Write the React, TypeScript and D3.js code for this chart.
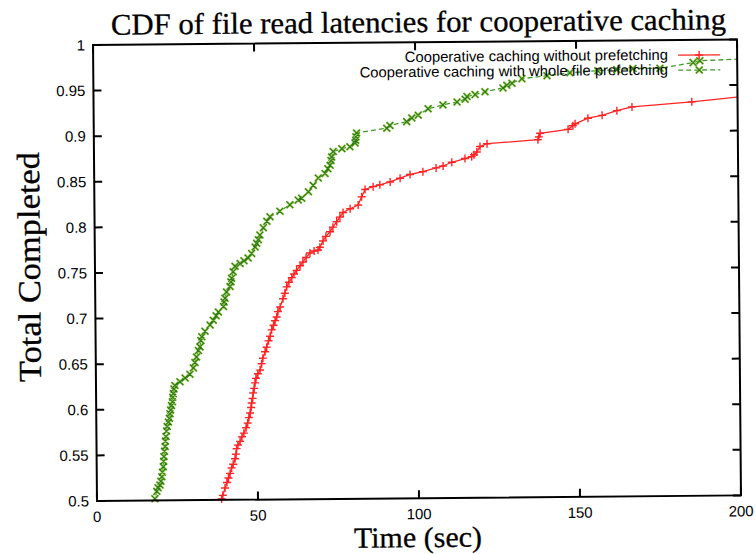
import React from "react";
import * as d3 from "d3";

// Tick values / labels
const xTickValues = [0, 50, 100, 150, 200];
const xTickLabels = ["0", "50", "100", "150", "200"];
const yTickValues = [0.5, 0.55, 0.6, 0.65, 0.7, 0.75, 0.8, 0.85, 0.9, 0.95, 1];
const yTickLabels = ["0.5", "0.55", "0.6", "0.65", "0.7", "0.75", "0.8", "0.85", "0.9", "0.95", "1"];

const seriesNames = [
  "Cooperative caching without prefetching",
  "Cooperative caching with whole file prefetching",
];

// [time (sec), fraction completed]
const withoutPrefetching: [number, number][] = [
  [38.2, 0.496], [38.7, 0.501], [39.1, 0.505], [39.8, 0.513], [40.4, 0.519], [40.9, 0.524],
  [41.4, 0.529], [41.9, 0.535], [42.4, 0.539], [43.0, 0.545], [43.3, 0.55], [43.5, 0.556],
  [43.9, 0.56], [44.6, 0.564], [45.2, 0.569], [45.8, 0.573], [46.5, 0.579], [47.0, 0.584],
  [47.4, 0.59], [47.8, 0.595], [48.1, 0.601], [48.3, 0.606], [48.6, 0.611], [48.8, 0.617],
  [49.1, 0.622], [49.4, 0.628], [49.7, 0.633], [50.3, 0.638], [51.0, 0.642], [51.5, 0.649],
  [51.9, 0.655], [52.6, 0.662], [53.1, 0.667], [53.7, 0.674], [54.2, 0.679], [54.7, 0.686],
  [55.3, 0.691], [55.8, 0.696], [56.3, 0.7], [56.7, 0.706], [57.4, 0.711], [58.3, 0.72],
  [58.9, 0.726], [59.5, 0.733], [60.2, 0.738], [61.1, 0.743], [61.8, 0.747], [62.6, 0.751],
  [63.7, 0.756], [64.6, 0.76], [65.6, 0.765], [66.8, 0.77], [68.1, 0.772], [69.3, 0.773],
  [69.9, 0.776], [70.9, 0.783], [71.8, 0.788], [73.1, 0.793], [74.0, 0.798], [75.2, 0.804],
  [76.2, 0.809], [77.2, 0.814], [79.4, 0.818], [81.9, 0.822], [83.0, 0.831], [84.1, 0.839],
  [86.6, 0.842], [88.7, 0.844], [91.9, 0.847], [95.0, 0.851], [98.1, 0.855], [102.1, 0.858],
  [106.2, 0.862], [108.4, 0.864], [111.1, 0.868], [115.2, 0.872], [117.3, 0.874], [118.0, 0.876],
  [118.9, 0.879], [119.9, 0.885], [122.1, 0.888], [137.9, 0.892], [138.2, 0.895], [138.6, 0.899],
  [147.3, 0.903], [148.8, 0.907], [149.5, 0.909], [153.5, 0.915], [157.9, 0.918], [162.5, 0.923],
  [167.2, 0.927], [185.8, 0.932], [215.0, 0.942],
];

const withPrefetching: [number, number][] = [
  [17.6, 0.497], [18.0, 0.502], [18.6, 0.51], [19.0, 0.514], [19.6, 0.517], [19.9, 0.521],
  [20.2, 0.526], [20.4, 0.531], [20.7, 0.537], [20.8, 0.543], [20.9, 0.548], [21.1, 0.554],
  [21.3, 0.559], [21.4, 0.565], [21.6, 0.57], [21.8, 0.576], [22.0, 0.581], [22.4, 0.586],
  [22.7, 0.59], [22.9, 0.595], [23.1, 0.599], [23.4, 0.604], [23.7, 0.608], [23.8, 0.613],
  [24.0, 0.617], [24.2, 0.622], [24.5, 0.626], [26.1, 0.63], [27.7, 0.634], [29.2, 0.638],
  [30.3, 0.645], [30.8, 0.651], [31.3, 0.657], [31.9, 0.664], [32.4, 0.668], [32.7, 0.675],
  [33.0, 0.679], [34.0, 0.685], [35.6, 0.692], [36.6, 0.697], [37.5, 0.702], [38.2, 0.706],
  [39.8, 0.712], [40.0, 0.717], [40.3, 0.721], [40.8, 0.728], [41.9, 0.734], [42.2, 0.739],
  [42.4, 0.743], [42.9, 0.75], [43.5, 0.756], [45.1, 0.759], [46.3, 0.762], [47.6, 0.765],
  [48.7, 0.77], [49.8, 0.777], [50.3, 0.781], [50.8, 0.785], [51.3, 0.79], [52.4, 0.798],
  [53.5, 0.805], [54.5, 0.81], [57.6, 0.816], [60.7, 0.823], [63.3, 0.828], [64.4, 0.83],
  [66.5, 0.837], [68.0, 0.844], [69.6, 0.852], [71.7, 0.857], [72.6, 0.862], [73.3, 0.866],
  [73.6, 0.871], [73.8, 0.875], [74.3, 0.881], [77.0, 0.884], [79.5, 0.886], [81.1, 0.89],
  [81.3, 0.893], [81.4, 0.897], [81.6, 0.901], [91.0, 0.906], [92.0, 0.909], [97.2, 0.913],
  [98.8, 0.917], [100.8, 0.92], [103.9, 0.927], [108.5, 0.931], [112.9, 0.934], [115.4, 0.937],
  [116.0, 0.94], [118.5, 0.942], [121.6, 0.945], [127.2, 0.949], [128.4, 0.952], [130.0, 0.954],
  [133.1, 0.959], [140.9, 0.962], [148.0, 0.965], [156.7, 0.967], [162.6, 0.968], [167.6, 0.969],
  [176.0, 0.969], [186.3, 0.975], [188.4, 0.977], [215.0, 0.98],
];

const RED = "#ff2424";
const GREEN_DARK = "#2c7a1c";
const GREEN_LIGHT = "#9ccc3a";
const GREEN_LINE = "#3f9a2a";

export default function App() {
  const W = 756;
  const H = 554;
  const left = 97;
  const right = 741;
  const top = 45;
  const bottom = 501;

  const x = d3.scaleLinear().domain([0, 200]).range([left, right]);
  const y = d3.scaleLinear().domain([0.5, 1]).range([bottom, top]);
  const line = d3
    .line<[number, number]>()
    .x((d) => x(d[0]))
    .y((d) => y(d[1]));

  const inside = (d: [number, number]) => d[0] >= 0 && d[0] <= 200 && d[1] >= 0.5 && d[1] <= 1;

  const plus = (cx: number, cy: number, r: number) => `M${cx - r},${cy}H${cx + r}M${cx},${cy - r}V${cy + r}`;
  const cross = (cx: number, cy: number, r: number) =>
    `M${cx - r},${cy - r}L${cx + r},${cy + r}M${cx - r},${cy + r}L${cx + r},${cy - r}`;

  const redMarks = withoutPrefetching.filter(inside).map((d) => plus(x(d[0]), y(d[1]), 4)).join("");
  const greenMarks = withPrefetching.filter(inside).map((d) => cross(x(d[0]), y(d[1]), 3.4)).join("");

  const tickLen = 8;
  const legendTextX = 671.8;
  const legendY1 = 60.3;
  const legendY2 = 75.3;
  const lx1 = 682;
  const lx2 = 724;
  const lmx = (lx1 + lx2) / 2;

  return (
    <svg
      width={W}
      height={H}
      style={{ position: "absolute", left: 0, top: 0, display: "block", background: "#fff" }}
    >
      <rect width={W} height={H} fill="#fff" />
      <defs>
        <clipPath id="plotClip">
          <rect x={left} y={top} width={right - left} height={bottom - top} />
        </clipPath>
      </defs>
      <g transform={`rotate(-0.5 ${left} ${bottom})`}>
        {/* Title */}
        <text
          x={422.6}
          y={34.8}
          textAnchor="middle"
          fontFamily="'Liberation Serif', 'Times New Roman', serif"
          fontSize={30}
          textLength={615}
          lengthAdjust="spacingAndGlyphs"
          fill="#000"
          stroke="#000"
          strokeWidth={0.3}
        >
          CDF of file read latencies for cooperative caching
        </text>

        {/* Series lines */}
        <g clipPath="url(#plotClip)">
          <path d={line(withoutPrefetching) || ""} fill="none" stroke={RED} strokeWidth={1.3} />
          <path
            d={line(withPrefetching) || ""}
            fill="none"
            stroke={GREEN_LINE}
            strokeWidth={1.3}
            strokeDasharray="5,3"
          />
        </g>
        {/* markers */}
        <path d={redMarks} fill="none" stroke={RED} strokeWidth={1.4} />
        <path d={greenMarks} fill="none" stroke={GREEN_LIGHT} strokeWidth={2.4} opacity={0.8} />
        <path d={greenMarks} fill="none" stroke={GREEN_DARK} strokeWidth={1.1} />

        {/* Frame */}
        <rect
          x={left}
          y={top}
          width={right - left}
          height={bottom - top}
          fill="none"
          stroke="#000"
          strokeWidth={2}
        />
        {/* Y ticks */}
        {yTickValues.map((v, i) => (
          <g key={"y" + i}>
            <line x1={left} x2={left + tickLen} y1={y(v)} y2={y(v)} stroke="#000" strokeWidth={2} />
            <line x1={right} x2={right - tickLen} y1={y(v)} y2={y(v)} stroke="#000" strokeWidth={2} />
            <text
              x={left - 8}
              y={y(v)}
              dy="0.35em"
              textAnchor="end"
              fontFamily="'Liberation Sans', Arial, sans-serif"
              fontSize={15}
              fill="#000"
            >
              {yTickLabels[i]}
            </text>
          </g>
        ))}
        {/* X ticks */}
        {xTickValues.map((v, i) => (
          <g key={"x" + i}>
            <line x1={x(v)} x2={x(v)} y1={bottom} y2={bottom - tickLen} stroke="#000" strokeWidth={2} />
            <line x1={x(v)} x2={x(v)} y1={top} y2={top + tickLen} stroke="#000" strokeWidth={2} />
            <text
              x={x(v)}
              y={bottom + 21}
              textAnchor="middle"
              fontFamily="'Liberation Sans', Arial, sans-serif"
              fontSize={15}
              fill="#000"
            >
              {xTickLabels[i]}
            </text>
          </g>
        ))}

        {/* Axis titles */}
        <text
          x={417.6}
          y={550}
          textAnchor="middle"
          fontFamily="'Liberation Serif', 'Times New Roman', serif"
          fontSize={29}
          textLength={128}
          lengthAdjust="spacingAndGlyphs"
          fill="#000"
          stroke="#000"
          strokeWidth={0.3}
        >
          Time (sec)
        </text>
        <text
          transform={`translate(42,266.5) rotate(-90)`}
          textAnchor="middle"
          fontFamily="'Liberation Serif', 'Times New Roman', serif"
          fontSize={32}
          textLength={230}
          lengthAdjust="spacingAndGlyphs"
          fill="#000"
          stroke="#000"
          strokeWidth={0.3}
        >
          Total Completed
        </text>

        {/* Legend */}
        <text
          x={legendTextX}
          y={legendY1 + 4.5}
          textAnchor="end"
          fontFamily="'Liberation Sans', Arial, sans-serif"
          fontSize={14.8}
          fill="#000"
        >
          {seriesNames[0]}
        </text>
        <line x1={lx1} x2={lx2} y1={legendY1} y2={legendY1} stroke={RED} strokeWidth={1.3} />
        <path d={plus(lmx, legendY1, 4)} stroke={RED} strokeWidth={1.4} fill="none" />
        <text
          x={legendTextX}
          y={legendY2 + 4.5}
          textAnchor="end"
          fontFamily="'Liberation Sans', Arial, sans-serif"
          fontSize={14.8}
          fill="#000"
        >
          {seriesNames[1]}
        </text>
        <line
          x1={lx1}
          x2={lx2}
          y1={legendY2}
          y2={legendY2}
          stroke={GREEN_LINE}
          strokeWidth={1.3}
          strokeDasharray="5,3"
        />
        <path d={cross(lmx, legendY2, 3.4)} stroke={GREEN_LIGHT} strokeWidth={2.4} opacity={0.8} fill="none" />
        <path d={cross(lmx, legendY2, 3.4)} stroke={GREEN_DARK} strokeWidth={1.1} fill="none" />
      </g>
    </svg>
  );
}
